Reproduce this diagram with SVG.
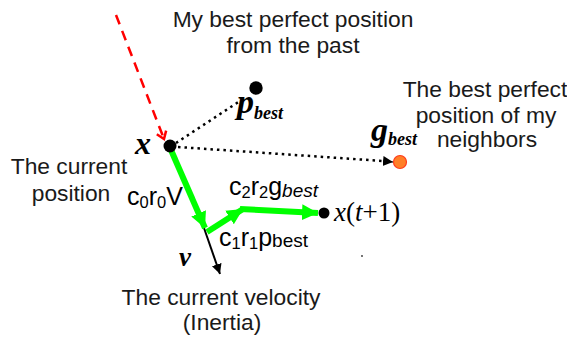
<svg xmlns="http://www.w3.org/2000/svg" width="567" height="339" viewBox="0 0 567 339">
<style>
.lbl{font-family:"Liberation Sans",Arial,sans-serif;font-size:22.8px;fill:#1a1a1a;text-anchor:middle}
.sym{font-family:"Liberation Serif","DejaVu Serif",serif;font-style:italic;font-weight:bold;fill:#000}
.eq{font-family:"Liberation Sans",Arial,sans-serif;font-size:25px;fill:#000}
.sub{font-size:16.5px}
.bs{font-size:19px}
.dot{stroke:#000;stroke-width:2.5;stroke-dasharray:2.5 4;fill:none}
.g{stroke:#00ff00;stroke-width:6;fill:none}
</style>
<defs>
<marker id="redv" markerWidth="12" markerHeight="12" refX="9" refY="6" orient="auto" markerUnits="userSpaceOnUse">
<path d="M2,1 L9,6 L2,11" fill="none" stroke="#ff0000" stroke-width="2.5"/>
</marker>
<marker id="blk" markerWidth="12" markerHeight="12" refX="10" refY="6" orient="auto" markerUnits="userSpaceOnUse">
<path d="M0,1 L10,6 L0,11 Z" fill="#000"/>
</marker>
<marker id="grn" markerWidth="20" markerHeight="20" refX="16" refY="10" orient="auto" markerUnits="userSpaceOnUse">
<path d="M0,2 L16,10 L0,18 Z" fill="#00ff00"/>
</marker>
</defs>
<g id="connectors">
<line x1="116" y1="15" x2="164" y2="139" stroke="#ff0000" stroke-width="2.5" stroke-dasharray="10 7" marker-end="url(#redv)"/>
<line class="dot" x1="176" y1="143" x2="246" y2="97"/>
<line class="dot" x1="178" y1="147" x2="383" y2="161"/>
<path d="M383,161 L393,162" stroke="#000" stroke-width="1" marker-end="url(#blk)"/>
<line x1="204" y1="228" x2="220" y2="274" stroke="#000" stroke-width="2" marker-end="url(#blk)"/>
<line class="g" x1="171" y1="150" x2="205" y2="228" marker-end="url(#grn)"/>
<line class="g" x1="207" y1="232" x2="243" y2="209" marker-end="url(#grn)"/>
<line class="g" x1="240" y1="209" x2="318" y2="213" marker-end="url(#grn)"/>
</g>
<g id="x-node">
<circle cx="170" cy="146" r="6.5" fill="#000"/>
<text class="sym" x="135" y="154" font-size="32">x</text>
<text class="lbl" x="69" y="174">The current</text>
<text class="lbl" x="71" y="201">position</text>
</g>
<g id="pbest-node">
<circle cx="256" cy="88" r="6.7" fill="#000"/>
<text class="sym" x="237" y="113" font-size="34">p<tspan font-size="18" dy="6">best</tspan></text>
<text class="lbl" x="293" y="27">My best perfect position</text>
<text class="lbl" x="293" y="53">from the past</text>
</g>
<g id="gbest-node">
<circle cx="400" cy="162" r="6.5" fill="#ff7f27" stroke="#ff3b1a" stroke-width="1.2"/>
<text class="sym" x="371" y="141" font-size="34">g<tspan font-size="18" dy="4">best</tspan></text>
<text class="lbl" x="485" y="97">The best perfect</text>
<text class="lbl" x="486" y="123">position of my</text>
<text class="lbl" x="487" y="147">neighbors</text>
</g>
<g id="xt1-node">
<circle cx="324" cy="213" r="5.5" fill="#000"/>
<text x="334" y="221" font-family="'Liberation Serif','DejaVu Serif',serif" font-size="27" font-style="italic" fill="#000">x<tspan font-style="normal">(</tspan>t<tspan font-style="normal">+1)</tspan></text>
</g>
<g id="v-node">
<text class="sym" x="179" y="266" font-size="27">v</text>
<text class="lbl" x="221" y="305">The current velocity</text>
<text class="lbl" x="222" y="330">(Inertia)</text>
</g>
<g id="terms">
<text class="eq" x="127" y="205">c<tspan class="sub" dy="3">0</tspan><tspan dy="-3">r</tspan><tspan class="sub" dy="3">0</tspan><tspan dy="-3">V</tspan></text>
<text class="eq" x="229" y="195">c<tspan class="sub" dy="3">2</tspan><tspan dy="-3">r</tspan><tspan class="sub" dy="3">2</tspan><tspan dy="-3">g</tspan><tspan class="bs" font-style="italic" dy="2">best</tspan></text>
<text class="eq" x="219" y="246">c<tspan class="sub" dy="3">1</tspan><tspan dy="-3">r</tspan><tspan class="sub" dy="3">1</tspan><tspan dy="-3">p</tspan><tspan class="bs" dy="1">best</tspan></text>
</g>
<circle cx="362" cy="256" r="0.9" fill="#333"/>
</svg>
